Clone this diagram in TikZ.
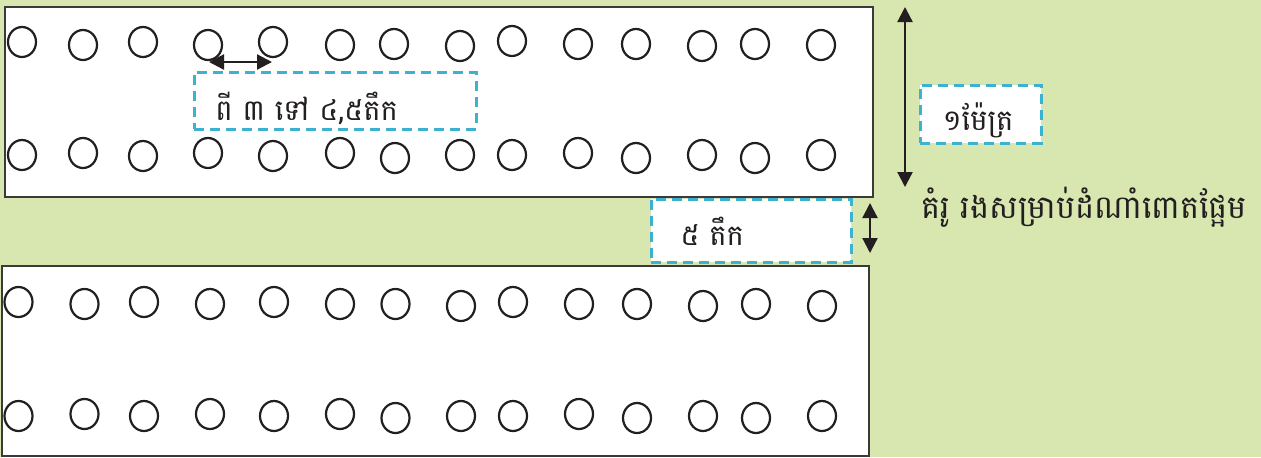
\documentclass[tikz,border=0pt]{standalone}
\usepackage{fontspec}
\newfontfamily\khmer[Script=Khmer]{Battambang}
\usetikzlibrary{shapes.geometric,arrows.meta}
\definecolor{bg}{HTML}{D8E6B0}
\definecolor{dashc}{HTML}{3CB1D0}
\definecolor{ink}{HTML}{231F20}
\definecolor{edge}{HTML}{3A3A3A}
\begin{document}
\begin{tikzpicture}[x=0.5pt,y=-0.5pt,
  hole/.style={ellipse,draw=ink,line width=1.1pt,minimum width=14pt,minimum height=15pt,inner sep=0pt},
  bed/.style={draw=edge,line width=1.3pt,fill=white},
  lab/.style={rectangle,draw=dashc,dash pattern=on 5pt off 3pt,line width=1.5pt,fill=white,inner sep=0pt},
  txt/.style={font=\khmer\fontsize{14.5pt}{16pt}\selectfont,text=ink,inner sep=0pt},
  dim/.style={{Triangle[length=7.5pt,width=7.5pt]}-{Triangle[length=7.5pt,width=7.5pt]},line width=1.1pt,draw=ink}
]
\fill[bg] (0,0) rectangle (1261,457);
\useasboundingbox (0,0) rectangle (1261,457);
% beds
\draw[bed] (5,7) rectangle (873,197);
\draw[bed] (2,266) rectangle (869,456);
% top bed holes
\foreach \x/\y [count=\i] in {22/42,83/45,143/42,208/45,273/42,340/45,394/44,460/46,512/41,578/44,636/44,702/46,755/44,821/45}
  \node[hole] (ta\i) at (\x,\y) {};
\foreach \x/\y [count=\i] in {22/155,83/153,143/156,208/153,273/156,340/153,395/158,460/155,512/155,578/153,636/158,702/155,755/158,821/155}
  \node[hole] (tb\i) at (\x,\y) {};
% bottom bed holes
\foreach \x/\y [count=\i] in {18.5/302,84.5/304,144/302,210/304,274/302,340/304,395.5/304,461/306,513/302,579/304,637/304,703/306,756/304,822/306}
  \node[hole] (ba\i) at (\x,\y) {};
\foreach \x/\y [count=\i] in {18.5/416,84.5/414,144/416,210/414,274/416,340/414,395.5/418,461/416,513/416,579/414,637/418,703/416,756/418,822/416}
  \node[hole] (bb\i) at (\x,\y) {};
% spacing arrow between holes
\coordinate (h1) at (209,62);
\coordinate (h2) at (272,62);
\draw[dim] (h1) -- (h2);
% label boxes
\node[lab,minimum width=141pt,minimum height=28.5pt] (box1) at (335,100.5) {};
\node[txt,anchor=base west] (t1) at (215,120) {ពី ៣ ទៅ ៤,៥តឹក};
\node[lab,minimum width=60.5pt,minimum height=29pt] (box2) at (980.5,114) {};
\node[txt,anchor=base] (t2) at (978,130) {១ម៉ែត្រ};
\node[lab,minimum width=100pt,minimum height=31.5pt] (box3) at (751,230.5) {};
\node[txt,anchor=base west] (t3) at (680,245) {៥ តឹក};
% bed width arrow
\coordinate (v1) at (905,7);
\coordinate (v2) at (905,187);
\draw[dim] (v1) -- (v2);
% path width arrow
\coordinate (p1) at (870,203);
\coordinate (p2) at (870,253);
\draw[dim] (p1) -- (p2);
% caption
\node[txt,anchor=base west,font=\khmer\fontsize{16pt}{18pt}\selectfont] (cap) at (921,218) {គំរូ រងសម្រាប់ដំណាំពោតផ្អែម};
\end{tikzpicture}
\end{document}
